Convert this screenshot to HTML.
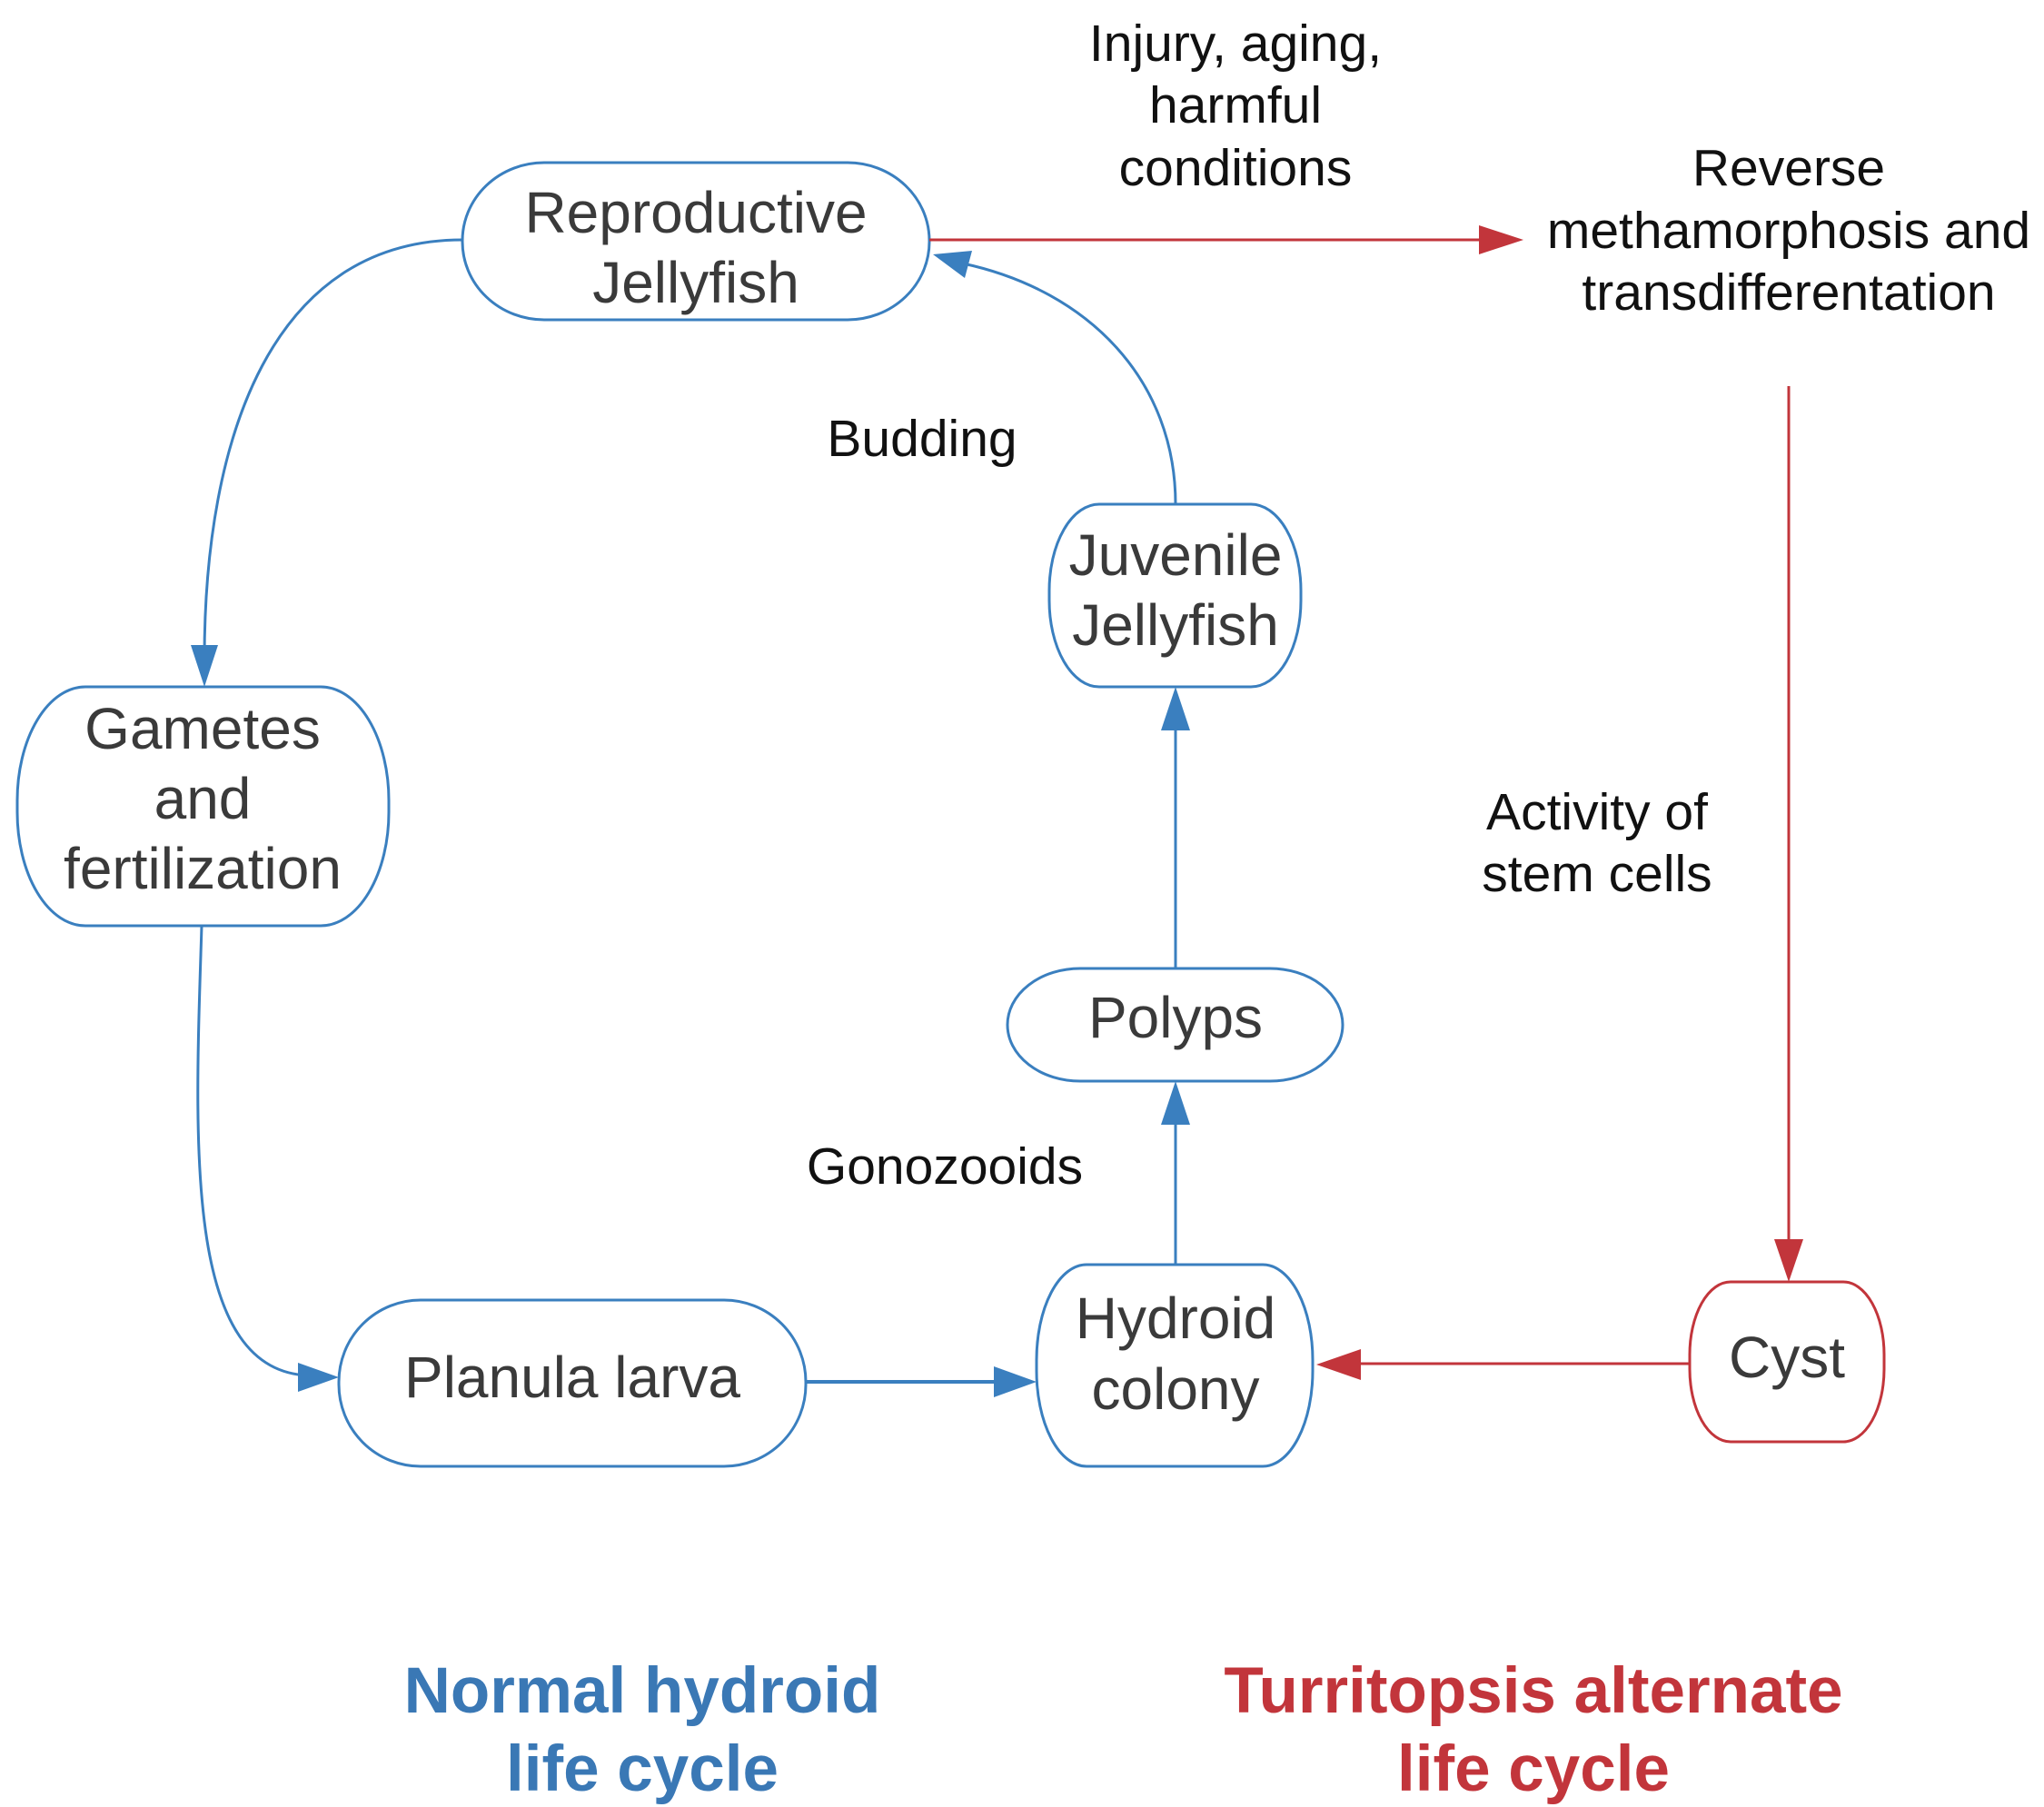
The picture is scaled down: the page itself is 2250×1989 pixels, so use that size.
<!DOCTYPE html>
<html><head><meta charset="utf-8"><style>
html,body{margin:0;padding:0;background:#fff}
svg{display:block}
text{font-family:"Liberation Sans",Arial,sans-serif}
.n{font-size:64px;fill:#3a3a3a;text-anchor:middle}
.l{font-size:57px;fill:#111;text-anchor:middle}
.t{font-size:71px;font-weight:bold;text-anchor:middle}
</style></head><body>
<svg width="2250" height="1989" viewBox="0 0 2250 1989" xmlns="http://www.w3.org/2000/svg">
<g fill="#fff" stroke="#3a7fbf" stroke-width="3">
<rect x="509" y="179" width="514" height="173" rx="90" ry="86"/>
<rect x="19" y="756" width="409" height="263" rx="75" ry="125"/>
<rect x="1155" y="555" width="277" height="201" rx="55" ry="95"/>
<rect x="1109" y="1066" width="369" height="124" rx="80" ry="62"/>
<rect x="1141" y="1392" width="304" height="222" rx="55" ry="105"/>
<rect x="373" y="1431" width="514" height="183" rx="90" ry="90"/>
</g>
<rect x="1860" y="1411" width="214" height="176" rx="45" ry="80" fill="#fff" stroke="#c2353b" stroke-width="3"/>

<g fill="none" stroke="#3a7fbf" stroke-width="3">
<path d="M509,264 C300,264 225,480 225,725"/>
<path d="M222,1019 C215,1250 200,1510 340,1514"/>
<path d="M887,1521 L1110,1521" stroke-width="4"/>
<path d="M1294,1392 L1294,1225"/>
<path d="M1294,1066 L1294,790"/>
<path d="M1294,555 C1294,420 1200,320 1060,290"/>
</g>
<g fill="#3a7fbf">
<polygon points="225,756 210,710 240,710"/>
<polygon points="373,1516 328,1500 328,1532"/>
<polygon points="1141,1521 1094,1504 1094,1538"/>
<polygon points="1294,1190 1278,1238 1310,1238"/>
<polygon points="1294,756 1278,804 1310,804"/>
<polygon points="1027,280 1070,276 1062,306"/>
</g>
<g fill="none" stroke="#c2353b" stroke-width="3">
<path d="M1023,264 L1640,264"/>
<path d="M1969,425 L1969,1375"/>
<path d="M1860,1501 L1490,1501"/>
</g>
<g fill="#c2353b">
<polygon points="1677,264 1628,248 1628,280"/>
<polygon points="1969,1411 1953,1364 1985,1364"/>
<polygon points="1449,1502 1498,1485 1498,1519"/>
</g>

<text class="n" x="766" y="256">Reproductive</text>
<text class="n" x="766" y="333">Jellyfish</text>
<text class="n" x="223" y="824">Gametes</text>
<text class="n" x="223" y="901">and</text>
<text class="n" x="223" y="978">fertilization</text>
<text class="n" x="1294" y="633">Juvenile</text>
<text class="n" x="1294" y="710">Jellyfish</text>
<text class="n" x="1294" y="1142">Polyps</text>
<text class="n" x="1294" y="1473">Hydroid</text>
<text class="n" x="1294" y="1551">colony</text>
<text class="n" x="630" y="1538">Planula larva</text>
<text class="n" x="1967" y="1516">Cyst</text>

<text class="l" x="1360" y="67">Injury, aging,</text>
<text class="l" x="1360" y="135">harmful</text>
<text class="l" x="1360" y="204">conditions</text>
<text class="l" x="1969" y="204">Reverse</text>
<text class="l" x="1969" y="273">methamorphosis and</text>
<text class="l" x="1969" y="341">transdifferentation</text>
<text class="l" x="1015" y="502">Budding</text>
<text class="l" x="1758" y="913">Activity of</text>
<text class="l" x="1758" y="981">stem cells</text>
<text class="l" x="1040" y="1303">Gonozooids</text>

<text class="t" x="707" y="1885" fill="#3a78b5">Normal hydroid</text>
<text class="t" x="707" y="1971" fill="#3a78b5">life cycle</text>
<text class="t" x="1688" y="1885" fill="#c2353b">Turritopsis alternate</text>
<text class="t" x="1688" y="1971" fill="#c2353b">life cycle</text>
</svg>
</body></html>
